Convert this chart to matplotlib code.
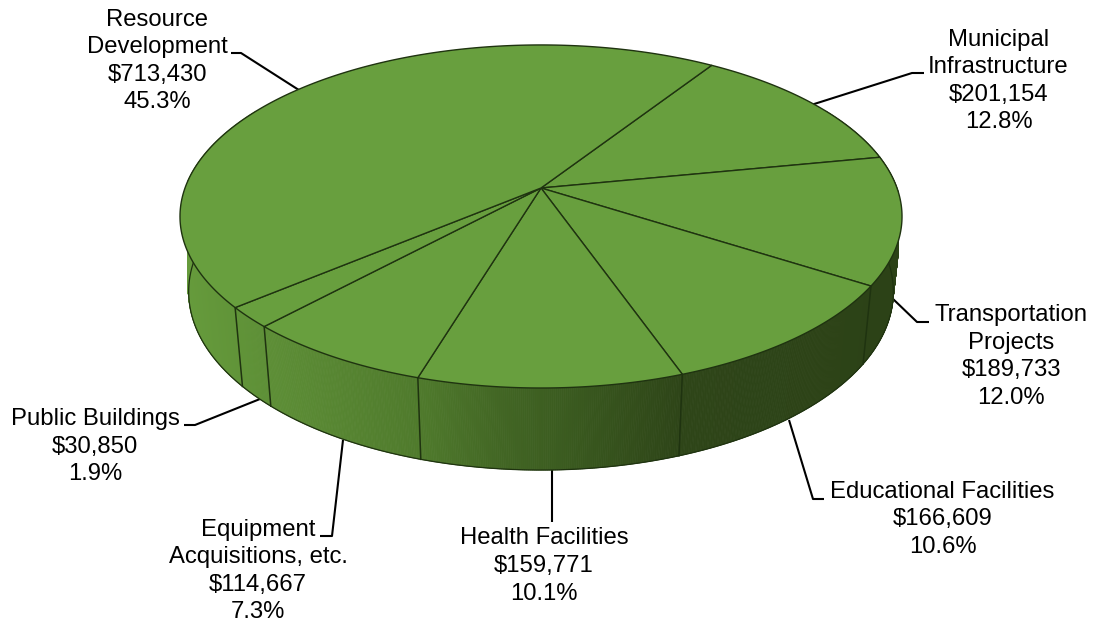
import numpy as np
import matplotlib
matplotlib.use('Agg')
import matplotlib.pyplot as plt
from matplotlib.patches import Polygon

plt.rcParams['font.family'] = ['Liberation Sans', 'DejaVu Sans']

# clockwise from the Municipal slice
categorias = ['Municipal\nInfrastructure', 'Transportation\nProjects', 'Educational Facilities',
              'Health Facilities', 'Equipment\nAcquisitions, etc.', 'Public Buildings',
              'Resource\nDevelopment']
valores = [201154, 189733, 166609, 159771, 114667, 30850, 713430]
percentuais = ['12.8%', '12.0%', '10.6%', '10.1%', '7.3%', '1.9%', '45.3%']

# label centre x, first baseline y, line spacing
pos_rotulos = [(998.5, 46, 27.4), (1011, 321, 27.7), (942.5, 498, 27.5), (544, 544, 28),
               (258, 536, 27.4), (95, 425, 27.5), (157, 26, 27.4)]
# leader lines
guias = [[(924, 73), (912, 73), (811, 105)],
         [(892, 298), (917, 322), (929, 322)],
         [(789, 420), (813, 499), (824, 499)],
         [(552, 470), (552, 522)],
         [(343, 440), (332, 536), (320, 536)],
         [(260, 399), (195, 425), (184, 425)],
         [(231, 53), (241, 53), (302, 92)]]

cor_topo = '#689f3e'
cor_linha = '#1f3310'
grad_x = [180, 240, 270, 420, 500, 570, 680, 900]
grad_r = [0x66, 0x60, 0x5d, 0x4f, 0x42, 0x3a, 0x2e, 0x2c]
grad_g = [0x9b, 0x93, 0x8e, 0x7a, 0x66, 0x5a, 0x45, 0x42]
grad_b = [0x3c, 0x38, 0x36, 0x2c, 0x24, 0x1f, 0x18, 0x17]

CX, CY, A, B, K = 541, 188, 356, 166.8, 0.166
INICIO = 33.1


def topo(t):
    # t in degrees clockwise from the back of the disc, perspective projection
    r = np.radians(t)
    d = 1 + K * np.cos(r)
    return CX + A * np.sin(r) / d, CY - B * np.cos(r) / d


def base(t):
    x, y = topo(t)
    return CX + (x - CX) * 0.976, 365 + (y - 287) * 1.04


fig = plt.figure(figsize=(10.94, 6.24), dpi=100)
ax = fig.add_axes([0, 0, 1, 1])
ax.set_xlim(0, 1094)
ax.set_ylim(624, 0)
ax.axis('off')

# keeps the wall edges straight on the far left and right
recorte = Polygon([(187, 0), (187, 624), (892, 624), (899, 230), (899, 0)], closed=True,
                  transform=ax.transData)

# side wall, painted in thin strips for the gradient
ts = np.linspace(60, 300, 900)
for t0, t1 in zip(ts[:-1], ts[1:]):
    xa, ya = topo(t0)
    xb, yb = topo(t1)
    xc, yc = base(t1)
    xd, yd = base(t0)
    xm = (xa + xb) / 2
    cor = (np.interp(xm, grad_x, grad_r) / 255, np.interp(xm, grad_x, grad_g) / 255,
           np.interp(xm, grad_x, grad_b) / 255)
    faixa = Polygon([(xa, ya), (xb, yb), (xc, yc), (xd, yd)], closed=True,
                    fc=cor, ec=cor, lw=0.6, zorder=1)
    ax.add_patch(faixa)
    faixa.set_clip_path(recorte)
bx, by = base(ts)
ax.plot(bx, by, color=cor_linha, lw=0.9, zorder=2)

# top wedges
fracoes = np.array(valores) / sum(valores)
limites = INICIO + np.concatenate([[0], np.cumsum(fracoes)]) * 360
for t0, t1 in zip(limites[:-1], limites[1:]):
    tt = np.linspace(t0, t1, 200)
    x, y = topo(tt)
    pts = [(CX, CY)] + list(zip(x, y))
    ax.add_patch(Polygon(pts, closed=True, fc=cor_topo, ec=cor_linha, lw=1.0,
                         joinstyle='round', zorder=3))
    # wedge edge on the wall
    if 90 < t0 % 360 < 270:
        xa, ya = topo(t0)
        xb, yb = base(t0)
        ax.plot([xa, xb], [ya, yb], color=cor_linha, lw=1.1, zorder=2)

for cat, val, pct, (px, py, passo), guia in zip(categorias, valores, percentuais, pos_rotulos, guias):
    linhas = cat.split('\n') + [f'${val:,}', pct]
    for i, linha in enumerate(linhas):
        ax.text(px, py + i * passo, linha, ha='center', va='baseline', fontsize=17.2, color='black')
    gx, gy = zip(*guia)
    ax.plot(gx, gy, color='black', lw=1.5, zorder=0, solid_capstyle='butt')

fig.savefig('out.png', dpi=100)
